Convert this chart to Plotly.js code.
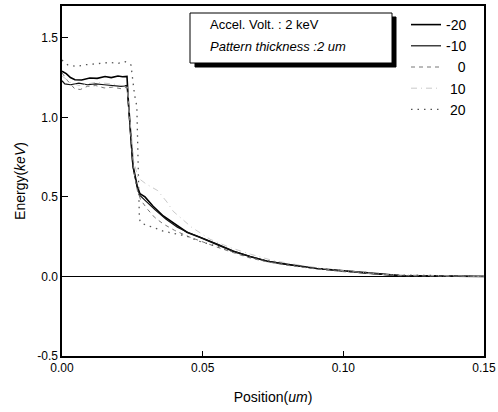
<!DOCTYPE html>
<html>
<head>
<meta charset="utf-8">
<script src="https://cdn.plot.ly/plotly-3.0.1.min.js"></script>
<style>html,body{margin:0;padding:0;background:#fff;}#chart{width:498px;height:412px;}</style>
</head>
<body>
<div id="chart"></div>
<script>
// Series names (legend labels, padded with figure/punctuation spaces to right-align)
const seriesNames = ["-20", "-10", "\u2007\u20080", "\u200810", "\u200820"];

// -20 (solid, upper plateau)
const xM20 = [0, 0.0015, 0.003, 0.0046, 0.007, 0.0099, 0.0125, 0.0153, 0.0175, 0.0199, 0.0215, 0.0231, 0.0236, 0.0242, 0.0252, 0.0267, 0.0277, 0.0295, 0.0323, 0.036, 0.041, 0.0444, 0.049, 0.055, 0.0608, 0.0668, 0.0729, 0.080, 0.0906, 0.1024, 0.1105, 0.12, 0.15];
const yM20 = [1.29, 1.275, 1.25, 1.236, 1.235, 1.247, 1.245, 1.257, 1.25, 1.26, 1.255, 1.257, 1.1, 0.93, 0.70, 0.57, 0.52, 0.50, 0.443, 0.38, 0.316, 0.278, 0.247, 0.20, 0.158, 0.125, 0.095, 0.076, 0.05, 0.032, 0.02, 0.005, 0];

// -10 (solid, lower plateau)
const xM10 = [0, 0.001, 0.003, 0.006, 0.009, 0.012, 0.015, 0.018, 0.021, 0.0231, 0.0236, 0.0242, 0.0252, 0.0267, 0.0277, 0.030, 0.033, 0.037, 0.041, 0.045, 0.049, 0.055, 0.061, 0.067, 0.073, 0.080, 0.090, 0.100, 0.110, 0.120, 0.15];
const yM10 = [1.23, 1.21, 1.205, 1.215, 1.205, 1.21, 1.205, 1.20, 1.195, 1.2, 1.08, 0.92, 0.69, 0.56, 0.51, 0.47, 0.42, 0.36, 0.31, 0.275, 0.245, 0.205, 0.16, 0.125, 0.097, 0.075, 0.05, 0.032, 0.018, 0.006, 0];

// 0 (dashed)
const x0 = [0, 0.002, 0.0045, 0.0065, 0.009, 0.012, 0.015, 0.018, 0.021, 0.0232, 0.0237, 0.0245, 0.0255, 0.0268, 0.028, 0.0305, 0.033, 0.036, 0.040, 0.045, 0.050, 0.055, 0.060, 0.066, 0.072, 0.080, 0.090, 0.100, 0.110, 0.120, 0.15];
const y0 = [1.28, 1.23, 1.18, 1.175, 1.195, 1.2, 1.185, 1.19, 1.18, 1.19, 1.05, 0.88, 0.66, 0.54, 0.48, 0.42, 0.37, 0.33, 0.29, 0.25, 0.215, 0.185, 0.155, 0.12, 0.095, 0.07, 0.048, 0.03, 0.017, 0.005, 0];

// 10 (faint dash-dot)
const x10 = [0, 0.003, 0.006, 0.009, 0.012, 0.015, 0.018, 0.021, 0.0233, 0.0238, 0.0246, 0.0256, 0.027, 0.030, 0.034, 0.0373, 0.0395, 0.046, 0.0526, 0.060, 0.067, 0.075, 0.085, 0.095, 0.105, 0.115, 0.15];
const y10 = [1.26, 1.22, 1.2, 1.21, 1.22, 1.215, 1.21, 1.2, 1.2, 1.05, 0.9, 0.72, 0.62, 0.58, 0.54, 0.468, 0.41, 0.31, 0.234, 0.18, 0.14, 0.1, 0.07, 0.045, 0.028, 0.012, 0];

// 20 (dotted, highest plateau)
const x20 = [0, 0.002, 0.005, 0.008, 0.011, 0.014, 0.017, 0.020, 0.0225, 0.0245, 0.0252, 0.0258, 0.0266, 0.027, 0.0272, 0.0275, 0.0278, 0.0302, 0.0323, 0.0359, 0.0444, 0.049, 0.055, 0.060, 0.065, 0.070, 0.080, 0.090, 0.100, 0.110, 0.118, 0.15];
const y20 = [1.36, 1.33, 1.32, 1.33, 1.335, 1.34, 1.345, 1.34, 1.35, 1.33, 1.23, 1.14, 1.07, 0.7, 0.44, 0.37, 0.34, 0.32, 0.31, 0.285, 0.253, 0.22, 0.19, 0.16, 0.13, 0.108, 0.076, 0.052, 0.035, 0.022, 0.01, 0];

const xTicks = [0, 0.05, 0.10, 0.15];
const xTickText = ["0.00", "0.05", "0.10", "0.15"];
const yTicks = [-0.5, 0, 0.5, 1.0, 1.5];
const yTickText = ["-0.5", "0.0", "0.5", "1.0", "1.5"];

const FONT = "Liberation Sans, Arial, sans-serif";

const traces = [
  {x: xM20, y: yM20, name: seriesNames[0], mode: "lines", line: {color: "#000", width: 1.6, dash: "solid"}},
  {x: xM10, y: yM10, name: seriesNames[1], mode: "lines", line: {color: "#111", width: 1.2, dash: "solid"}},
  {x: x0, y: y0, name: seriesNames[2], mode: "lines", line: {color: "#777", width: 1, dash: "4px,4px"}},
  {x: x10, y: y10, name: seriesNames[3], mode: "lines", line: {color: "#bbb", width: 0.8, dash: "6px,4px,1px,4px"}},
  {x: x20, y: y20, name: seriesNames[4], mode: "lines", line: {color: "#555", width: 1.3, dash: "1.5px,5px"}}
];

function px2x(p) { return (p - 62) / 422; }
function px2y(p) { return (356 - p) / 350; }

const layout = {
  width: 498, height: 412,
  margin: {l: 62, r: 14, t: 6, b: 56},
  paper_bgcolor: "#fff", plot_bgcolor: "#fff",
  font: {family: FONT, color: "#000", size: 12},
  showlegend: true,
  legend: {x: px2x(406), y: px2y(9), xanchor: "left", yanchor: "top", bgcolor: "rgba(0,0,0,0)",
           borderwidth: 0, font: {family: FONT, size: 14, color: "#000"}, itemwidth: 30, tracegroupgap: 0},
  xaxis: {
    range: [0, 0.15], tickvals: xTicks, ticktext: xTickText,
    ticks: "inside", ticklen: 5, tickwidth: 1, tickcolor: "#000",
    showline: true, linecolor: "#000", linewidth: 1.6, mirror: true,
    showgrid: false, zeroline: false,
    tickfont: {family: FONT, size: 12},
    title: {text: "Position(<i>um</i>)", font: {family: FONT, size: 14}, standoff: 18}
  },
  yaxis: {
    range: [-0.5, 1.7], tickvals: yTicks, ticktext: yTickText,
    ticks: "inside", ticklen: 6, tickwidth: 1, tickcolor: "#000",
    showline: true, linecolor: "#000", linewidth: 1.6, mirror: true,
    showgrid: false, zeroline: true, zerolinecolor: "#000", zerolinewidth: 1.4,
    tickfont: {family: FONT, size: 12},
    title: {text: "Energy(<i>keV</i>)", font: {family: FONT, size: 14}, standoff: 8}
  },
  shapes: [
    {type: "rect", xref: "paper", yref: "paper", x0: px2x(195), x1: px2x(396), y0: px2y(67), y1: px2y(17),
     fillcolor: "#000", line: {color: "#000", width: 1}, layer: "above"},
    {type: "rect", xref: "paper", yref: "paper", x0: px2x(190), x1: px2x(392), y0: px2y(63), y1: px2y(13),
     fillcolor: "#fff", line: {color: "#000", width: 1}, layer: "above"}
  ],
  annotations: [
    {xref: "paper", yref: "paper", x: px2x(208), y: px2y(25), xanchor: "left", yanchor: "middle",
     text: "Accel. Volt. : 2 keV", showarrow: false, font: {family: FONT, size: 13}},
    {xref: "paper", yref: "paper", x: px2x(208), y: px2y(46), xanchor: "left", yanchor: "middle",
     text: "<i>Pattern thickness :2 um</i>", showarrow: false, font: {family: FONT, size: 13}}
  ]
};

Plotly.newPlot("chart", traces, layout, {displayModeBar: false, staticPlot: true});
</script>
</body>
</html>
